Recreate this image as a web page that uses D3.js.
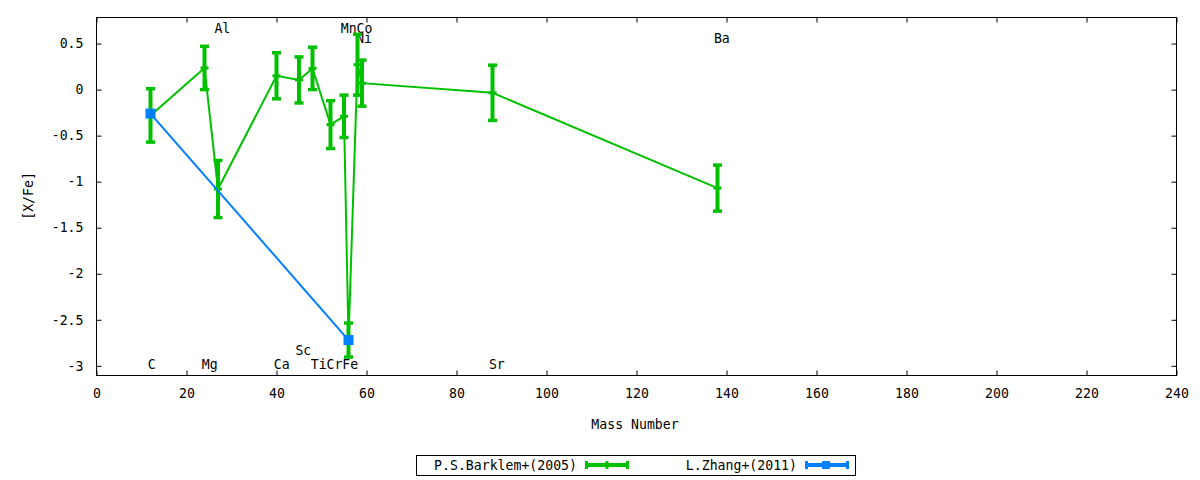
<!DOCTYPE html>
<html>
<head>
<meta charset="utf-8">
<script src="https://cdn.jsdelivr.net/npm/d3@7"></script>
<style>
  body { margin: 0; background: #fff; }
  text { font-family: "DejaVu Sans Mono", monospace; font-size: 13.2px; fill: #000; }
</style>
</head>
<body>
<svg id="chart" width="1200" height="480"></svg>
<script>
// Barklem+(2005) abundances vs. mass number
var mass = [12, 24, 27, 40, 45, 48, 52, 55, 56, 58, 59, 88, 138];
var barklemVal = [-0.28, 0.235, -1.08, 0.15, 0.105, 0.23, -0.38, -0.29, -2.72, 0.27, 0.07, -0.035, -1.07];
var barklemErr = [0.29, 0.235, 0.31, 0.25, 0.25, 0.23, 0.26, 0.23, 0.185, 0.33, 0.25, 0.30, 0.25];

// Zhang+(2011)
var zhangMass = [12, 56];
var zhangVal = [-0.26, -2.72];
var zhangErr = [0, 0];

// element labels (gnuplot "set label ... at x,y")
var labelNames = ["C", "Mg", "Al", "Ca", "Sc", "Ti", "Cr", "Fe", "Mn", "Co", "Ni", "Sr", "Ba"];
var labelX = [11.4, 23.4, 26.2, 39.4, 44.2, 47.6, 51.1, 54.6, 54.3, 57.8, 57.7, 87.2, 137.2];
var labelY = [-3, -3, 0.65, -3, -2.85, -3, -3, -3, 0.65, 0.65, 0.54, -3, 0.54];

var xTicks = d3.range(0, 241, 20);
var yTicks = [0.5, 0, -0.5, -1, -1.5, -2, -2.5, -3];

var green = "#00c000", blue = "#0080ff";

var svg = d3.select("#chart");
var pLeft = 96.5, pRight = 1176.5, pTop = 17.5, pBottom = 375.5;

var x = d3.scaleLinear().domain([0, 240]).range([pLeft, pRight]);
var y = d3.scaleLinear().domain([-3.105, 0.783]).range([pBottom, pTop]);

// axes, gnuplot style: ticks inside, mirrored
var fmt = function(d) { return String(d); };

svg.append("g")
  .attr("transform", "translate(0," + pBottom + ")")
  .call(d3.axisBottom(x).tickValues(xTicks).tickSizeInner(-5).tickSizeOuter(0).tickPadding(13).tickFormat(fmt));
svg.append("g")
  .attr("transform", "translate(0," + pTop + ")")
  .call(d3.axisTop(x).tickValues(xTicks).tickSizeInner(-5).tickSizeOuter(0).tickFormat(""));
svg.append("g")
  .attr("transform", "translate(" + pLeft + ",0)")
  .call(d3.axisLeft(y).tickValues(yTicks).tickSizeInner(-5).tickSizeOuter(0).tickPadding(13).tickFormat(fmt));
svg.append("g")
  .attr("transform", "translate(" + pRight + ",0)")
  .call(d3.axisRight(y).tickValues(yTicks).tickSizeInner(-5).tickSizeOuter(0).tickFormat(""));

svg.selectAll(".tick text").style("font-family", "DejaVu Sans Mono").style("font-size", "13.2px");
svg.selectAll(".domain").remove();

svg.append("rect")
  .attr("x", pLeft).attr("y", pTop)
  .attr("width", pRight - pLeft).attr("height", pBottom - pTop)
  .attr("fill", "none").attr("stroke", "#000").attr("stroke-width", 1)
  .attr("shape-rendering", "crispEdges");

// element labels
svg.selectAll(".elabel")
  .data(labelNames)
  .enter()
  .append("text")
  .attr("class", "elabel")
  .attr("x", function(d, i) { return x(labelX[i]); })
  .attr("y", function(d, i) { return y(labelY[i]); })
  .attr("dy", "0.22em")
  .text(function(d) { return d; });

// series
var line = d3.line()
  .x(function(d) { return x(d[0]); })
  .y(function(d) { return y(d[1]); });

function drawSeries(xs, vals, errs, color, squares) {
  var pts = xs.map(function(m, i) { return [m, vals[i], errs[i]]; });
  var g = svg.append("g");

  g.append("path")
    .datum(pts)
    .attr("d", line)
    .attr("fill", "none")
    .attr("stroke", color)
    .attr("stroke-width", 2);

  var bars = g.selectAll(".bar").data(pts).enter().append("g");
  bars.filter(function(d) { return d[2] > 0; })
    .append("line")
    .attr("x1", function(d) { return x(d[0]); })
    .attr("x2", function(d) { return x(d[0]); })
    .attr("y1", function(d) { return y(d[1] + d[2]); })
    .attr("y2", function(d) { return y(d[1] - d[2]); })
    .attr("stroke", color).attr("stroke-width", 4);
  [1, -1].forEach(function(s) {
    bars.filter(function(d) { return d[2] > 0; })
      .append("line")
      .attr("x1", function(d) { return x(d[0]) - 4.5; })
      .attr("x2", function(d) { return x(d[0]) + 4.5; })
      .attr("y1", function(d) { return y(d[1] + s * d[2]); })
      .attr("y2", function(d) { return y(d[1] + s * d[2]); })
      .attr("stroke", color).attr("stroke-width", 3.5);
  });

  if (squares) {
    bars.append("rect")
      .attr("x", function(d) { return x(d[0]) - 5; })
      .attr("y", function(d) { return y(d[1]) - 5; })
      .attr("width", 10).attr("height", 10)
      .attr("fill", color);
  } else {
    bars.append("line")
      .attr("x1", function(d) { return x(d[0]) - 4; })
      .attr("x2", function(d) { return x(d[0]) + 4; })
      .attr("y1", function(d) { return y(d[1]); })
      .attr("y2", function(d) { return y(d[1]); })
      .attr("stroke", color).attr("stroke-width", 3);
  }
}

drawSeries(mass, barklemVal, barklemErr, green, false);
drawSeries(zhangMass, zhangVal, zhangErr, blue, true);

// axis titles
svg.append("text")
  .attr("x", 635).attr("y", 429)
  .attr("text-anchor", "middle")
  .text("Mass Number");
svg.append("text")
  .attr("transform", "translate(33,196) rotate(-90)")
  .attr("text-anchor", "middle")
  .text("[X/Fe]");

// legend
var legend = svg.append("g");
legend.append("rect")
  .attr("x", 416.5).attr("y", 455.5)
  .attr("width", 439).attr("height", 20)
  .attr("fill", "none").attr("stroke", "#000")
  .attr("shape-rendering", "crispEdges");

var legendItems = [
  { name: "P.S.Barklem+(2005)", color: green, tx: 577, sx: 585, mark: "plus" },
  { name: "L.Zhang+(2011)", color: blue, tx: 797, sx: 805, mark: "square" }
];
legendItems.forEach(function(it) {
  legend.append("text")
    .attr("x", it.tx).attr("y", 465).attr("dy", "0.36em")
    .attr("text-anchor", "end")
    .text(it.name);
  legend.append("line")
    .attr("x1", it.sx).attr("x2", it.sx + 44)
    .attr("y1", 465).attr("y2", 465)
    .attr("stroke", it.color).attr("stroke-width", 4);
  [it.sx + 1.5, it.sx + 42.5].forEach(function(cx) {
    legend.append("line")
      .attr("x1", cx).attr("x2", cx)
      .attr("y1", 461).attr("y2", 469)
      .attr("stroke", it.color).attr("stroke-width", 3);
  });
  if (it.mark == "plus") {
    legend.append("line")
      .attr("x1", it.sx + 22).attr("x2", it.sx + 22)
      .attr("y1", 461).attr("y2", 469)
      .attr("stroke", it.color).attr("stroke-width", 3);
  } else {
    legend.append("rect")
      .attr("x", it.sx + 17).attr("y", 461)
      .attr("width", 8).attr("height", 8)
      .attr("fill", it.color);
  }
});
</script>
</body>
</html>
